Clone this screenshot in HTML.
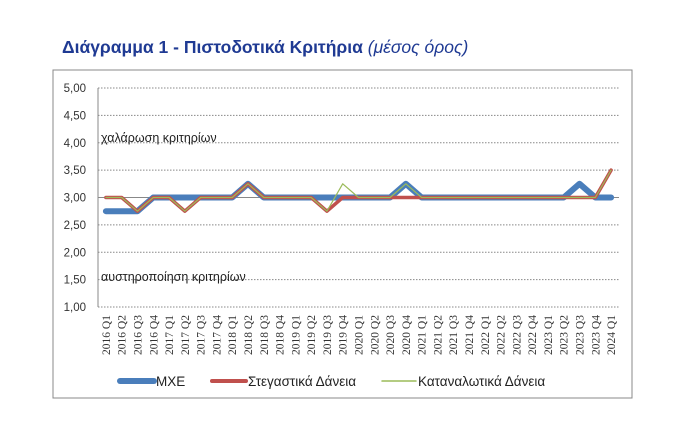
<!DOCTYPE html>
<html><head><meta charset="utf-8"><style>
body{margin:0;background:#fff;width:700px;height:439px;overflow:hidden;font-family:"Liberation Sans",sans-serif}
#title{position:absolute;left:62px;top:37px;font-size:17.5px;font-weight:bold;color:#1f3a93}
#title i{font-weight:normal}
svg{position:absolute;left:0;top:0}
</style></head><body>
<div id="title">Διάγραμμα 1 - Πιστοδοτικά Κριτήρια <i>(μέσος όρος)</i></div>
<svg id="c" width="700" height="439"></svg>
<script>
const categories=[];for(let y=2016;y<=2024;y++)for(let q=1;q<=4;q++){if(y===2024&&q>1)break;categories.push(y+' Q'+q);}
const mxe=[2.75,2.75,2.75,3,3,3,3,3,3,3.25,3,3,3,3,3,3,3,3,3,3.25,3,3,3,3,3,3,3,3,3,3,3.25,3,3];
const housing=[3,3,2.75,3,3,2.75,3,3,3,3.25,3,3,3,3,2.75,3,3,3,3,3,3,3,3,3,3,3,3,3,3,3,3,3,3.5];
const consumer=[3,3,2.75,3,3,2.75,3,3,3,3.25,3,3,3,3,2.75,3.25,3,3,3,3.25,3,3,3,3,3,3,3,3,3,3,3,3,3.5];
const yTicks=[1,1.5,2,2.5,3,3.5,4,4.5,5];
const NS='http://www.w3.org/2000/svg',svg=document.getElementById('c');
const x0=98,x1=619,y0=307,y1=88;
const X=i=>x0+(i+0.5)*(x1-x0)/categories.length;
const Y=v=>y0-(v-1)/4*(y0-y1);
function mk(t,a,p){const e=document.createElementNS(NS,t);for(const k in a)e.setAttribute(k,a[k]);(p||svg).appendChild(e);return e;}
const fr=mk('rect',{x:53,y:70,width:579,height:328,fill:'none',stroke:'#888','stroke-width':1});

yTicks.forEach(v=>{
 const g=mk('line',{x1:x0,x2:x1,y1:Y(v),y2:Y(v),stroke:'#888','stroke-dasharray':'1.5,1.5','stroke-width':1});
 
 const t=mk('text',{x:86,y:Y(v)+4,'text-anchor':'end','font-size':11.5,fill:'#333'});t.textContent=v.toFixed(2).replace('.',',');
 
});
const ax=mk('line',{x1:x0,x2:x0,y1:y1,y2:y0,stroke:'#888'});
const bx=mk('line',{x1:x0,x2:x1,y1:Y(3),y2:Y(3),stroke:'#888'});
categories.forEach((c,i)=>{
 const t=mk('text',{transform:`translate(${X(i)+4},${y0+8}) rotate(-90)`,'text-anchor':'end','font-size':11.5,'font-family':'Liberation Serif',fill:'#333'});t.textContent=c;
 
});
function line(d,col,w,name){const p=mk('polyline',{points:d.map((v,i)=>X(i)+','+Y(v)).join(' '),fill:'none',stroke:col,'stroke-width':w,'stroke-linejoin':'round','stroke-linecap':'round'});
 }
line(mxe,'#4a7ebb',6,'mxe-line');
line(housing,'#c0504d',3.5,'housing-line');
line(consumer,'#9bbb59',1.2,'consumer-line');
const a1=mk('text',{x:101,y:142,'font-size':12.5,fill:'#222'});a1.textContent='χαλάρωση κριτηρίων';
const a2=mk('text',{x:101,y:281,'font-size':12.5,fill:'#222'});a2.textContent='αυστηροποίηση κριτηρίων';
[['ΜΧΕ','#4a7ebb',6,120],['Στεγαστικά Δάνεια','#c0504d',4,212],['Καταναλωτικά Δάνεια','#9bbb59',1.5,382]].forEach(([n,c,w,x])=>{
 const g=mk('g',{});
 mk('line',{x1:x,x2:x+34,y1:381,y2:381,stroke:c,'stroke-width':w,'stroke-linecap':'round'},g);
 const t=mk('text',{x:x+36,y:386,'font-size':13.5,fill:'#222'},g);t.textContent=n;
});
</script>
</body></html>
